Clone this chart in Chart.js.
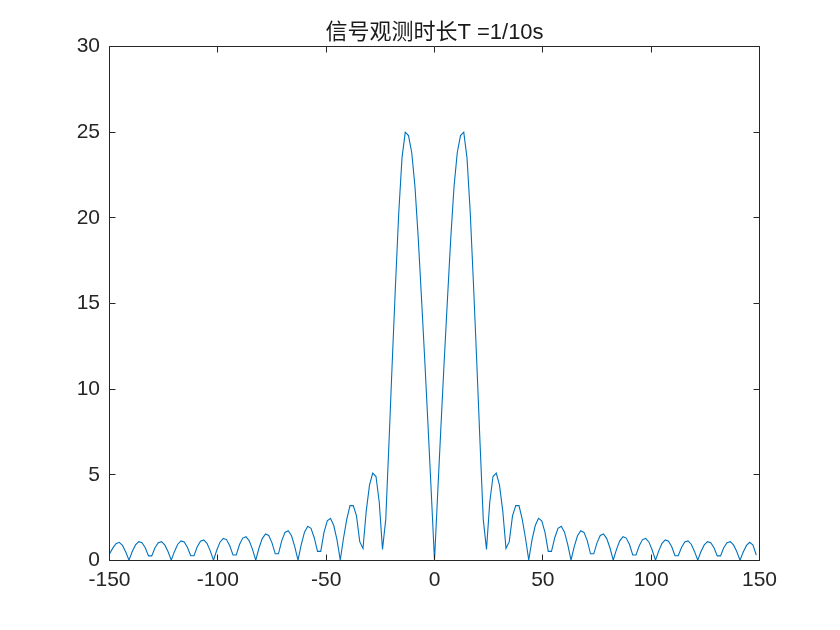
<!DOCTYPE html>
<html lang="zh">
<head>
<meta charset="UTF-8" />
<title>信号观测时长T =1/10s</title>
<script src="https://cdn.jsdelivr.net/npm/chart.js"></script>
<style>
  body { margin: 0; background: #fff; }
  #wrap { width: 840px; height: 630px; }
</style>
</head>
<body>
<div id="wrap"><canvas id="spec" width="840" height="630"></canvas></div>
<script>
// frequency grid (Hz)
const freqs = [
  -150, -148.5, -147, -145.5, -144, -142.5, -141, -139.5, -138, -136.5,
  -135, -133.5, -132, -130.5, -129, -127.5, -126, -124.5, -123, -121.5,
  -120, -118.5, -117, -115.5, -114, -112.5, -111, -109.5, -108, -106.5,
  -105, -103.5, -102, -100.5, -99, -97.5, -96, -94.5, -93, -91.5,
  -90, -88.5, -87, -85.5, -84, -82.5, -81, -79.5, -78, -76.5,
  -75, -73.5, -72, -70.5, -69, -67.5, -66, -64.5, -63, -61.5,
  -60, -58.5, -57, -55.5, -54, -52.5, -51, -49.5, -48, -46.5,
  -45, -43.5, -42, -40.5, -39, -37.5, -36, -34.5, -33, -31.5,
  -30, -28.5, -27, -25.5, -24, -22.5, -21, -19.5, -18, -16.5,
  -15, -13.5, -12, -10.5, -9, -7.5, -6, -4.5, -3, -1.5,
  0, 1.5, 3, 4.5, 6, 7.5, 9, 10.5, 12, 13.5,
  15, 16.5, 18, 19.5, 21, 22.5, 24, 25.5, 27, 28.5,
  30, 31.5, 33, 34.5, 36, 37.5, 39, 40.5, 42, 43.5,
  45, 46.5, 48, 49.5, 51, 52.5, 54, 55.5, 57, 58.5,
  60, 61.5, 63, 64.5, 66, 67.5, 69, 70.5, 72, 73.5,
  75, 76.5, 78, 79.5, 81, 82.5, 84, 85.5, 87, 88.5,
  90, 91.5, 93, 94.5, 96, 97.5, 99, 100.5, 102, 103.5,
  105, 106.5, 108, 109.5, 111, 112.5, 114, 115.5, 117, 118.5,
  120, 121.5, 123, 124.5, 126, 127.5, 129, 130.5, 132, 133.5,
  135, 136.5, 138, 139.5, 141, 142.5, 144, 145.5, 147, 148.5
];

// spectrum magnitude, one value per frequency above
const mags = [
  0.38, 0.72, 0.98, 1.06, 0.88, 0.50, 0.02, 0.52, 0.91, 1.10,
  1.04, 0.74, 0.27, 0.27, 0.74, 1.04, 1.10, 0.91, 0.52, 0.02,
  0.53, 0.95, 1.14, 1.08, 0.76, 0.28, 0.28, 0.80, 1.13, 1.20,
  1.00, 0.56, 0.02, 0.60, 1.07, 1.29, 1.22, 0.86, 0.32, 0.32,
  0.93, 1.31, 1.39, 1.15, 0.65, 0.02, 0.73, 1.28, 1.55, 1.46,
  1.03, 0.39, 0.39, 1.16, 1.64, 1.74, 1.44, 0.81, 0.02, 0.93,
  1.65, 2.00, 1.88, 1.33, 0.53, 0.53, 1.64, 2.32, 2.46, 2.04,
  1.20, 0.03, 1.30, 2.40, 3.20, 3.20, 2.60, 1.10, 0.70, 2.90,
  4.40, 5.10, 4.90, 3.40, 0.65, 2.40, 6.90, 11.6, 16.1, 20.3,
  23.5, 25.0, 24.8, 23.8, 21.8, 18.8, 15.3, 11.7, 7.9, 4.0,
  0, 4.0, 7.9, 11.7, 15.3, 18.8, 21.8, 23.8, 24.8, 25.0,
  23.5, 20.3, 16.1, 11.6, 6.9, 2.4, 0.65, 3.4, 4.9, 5.1,
  4.4, 2.9, 0.7, 1.1, 2.6, 3.2, 3.2, 2.4, 1.3, 0.03,
  1.2, 2.04, 2.46, 2.32, 1.64, 0.53, 0.53, 1.33, 1.88, 2.0,
  1.65, 0.93, 0.02, 0.81, 1.44, 1.74, 1.64, 1.16, 0.39, 0.39,
  1.03, 1.46, 1.55, 1.28, 0.73, 0.02, 0.65, 1.15, 1.39, 1.31,
  0.93, 0.32, 0.32, 0.86, 1.22, 1.29, 1.07, 0.60, 0.02, 0.56,
  1.00, 1.20, 1.13, 0.80, 0.28, 0.28, 0.76, 1.08, 1.14, 0.95,
  0.53, 0.02, 0.52, 0.91, 1.10, 1.04, 0.74, 0.27, 0.27, 0.74,
  1.04, 1.10, 0.91, 0.52, 0.02, 0.50, 0.88, 1.06, 0.90, 0.32
];

const xTicks = [-150, -100, -50, 0, 50, 100, 150];
const yTicks = [0, 5, 10, 15, 20, 25, 30];
const chartTitle = "信号观测时长T =1/10s";

const axisColor = "#262626";
const tickFont = "'Liberation Sans', Arial, sans-serif";

// matlab style box with inward ticks + title above the axes
const matlabAxes = {
  id: "matlabAxes",
  afterDraw(chart) {
    const { ctx, chartArea: a, scales } = chart;
    const snap = (v) => Math.floor(v) + 0.5;
    const L = snap(a.left), R = snap(a.right), T = snap(a.top), B = snap(a.bottom);
    const len = 6;
    ctx.save();
    ctx.strokeStyle = axisColor;
    ctx.lineWidth = 1;
    ctx.beginPath();
    ctx.rect(L, T, R - L, B - T);
    xTicks.forEach((v) => {
      const px = snap(scales.x.getPixelForValue(v));
      ctx.moveTo(px, B); ctx.lineTo(px, B - len);
      ctx.moveTo(px, T); ctx.lineTo(px, T + len);
    });
    yTicks.forEach((v) => {
      const py = snap(scales.y.getPixelForValue(v));
      ctx.moveTo(L, py); ctx.lineTo(L + len, py);
      ctx.moveTo(R, py); ctx.lineTo(R - len, py);
    });
    ctx.stroke();

    ctx.fillStyle = "#1a1a1a";
    ctx.font = "22px 'Liberation Sans', 'Noto Sans CJK SC', sans-serif";
    ctx.textAlign = "center";
    ctx.textBaseline = "middle";
    ctx.fillText(chartTitle, (a.left + a.right) / 2, 33);
    ctx.restore();
  }
};

new Chart(document.getElementById("spec"), {
  type: "line",
  data: {
    datasets: [{
      data: freqs.map((f, i) => ({ x: f, y: mags[i] })),
      borderColor: "#0072BD",
      borderWidth: 1.1,
      pointRadius: 0,
      tension: 0,
      fill: false
    }]
  },
  options: {
    responsive: false,
    animation: false,
    devicePixelRatio: 1,
    layout: { padding: { top: 46.5, right: 80.5, bottom: 0, left: 0 } },
    plugins: {
      legend: { display: false },
      title: { display: false },
      tooltip: { enabled: false }
    },
    scales: {
      x: {
        type: "linear",
        min: -150,
        max: 150,
        afterBuildTicks: (s) => { s.ticks = xTicks.map((v) => ({ value: v })); },
        afterFit: (s) => { s.height = 69.5; },
        grid: { display: false, tickLength: 0 },
        border: { display: false },
        ticks: {
          color: axisColor,
          font: { family: tickFont, size: 21 },
          padding: 7.5,
          maxRotation: 0,
          autoSkip: false
        }
      },
      y: {
        min: 0,
        max: 30,
        afterBuildTicks: (s) => { s.ticks = yTicks.map((v) => ({ value: v })); },
        afterFit: (s) => { s.width = 109.5; },
        grid: { display: false, tickLength: 0 },
        border: { display: false },
        ticks: {
          color: axisColor,
          font: { family: tickFont, size: 21 },
          padding: 9.5
        }
      }
    }
  },
  plugins: [matlabAxes]
});
</script>
</body>
</html>
